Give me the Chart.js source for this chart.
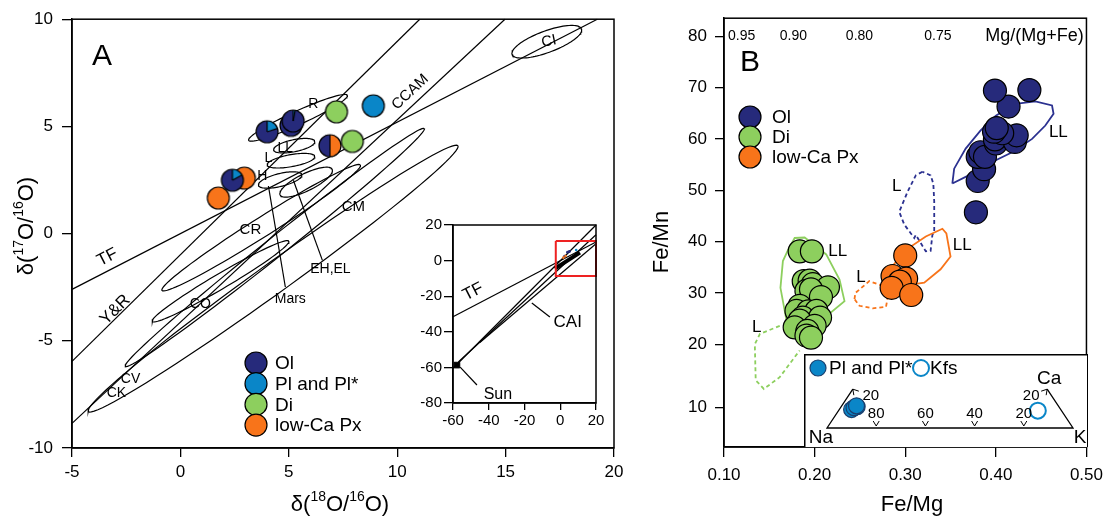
<!DOCTYPE html>
<html>
<head>
<meta charset="utf-8">
<script src="https://cdn.jsdelivr.net/npm/chart.js@4.4.0/dist/chart.umd.min.js"></script>
<style>
  body { margin: 0; background: #fff; width: 1111px; height: 519px; overflow: hidden; position: relative; }
  canvas { position: absolute; }
</style>
</head>
<body>
<canvas id="chartA" width="660" height="519" style="left:0;top:0;width:660px;height:519px"></canvas>
<canvas id="insetA" width="210" height="240" style="left:400px;top:200px;width:210px;height:240px"></canvas>
<canvas id="chartB" width="471" height="519" style="left:640px;top:0;width:471px;height:519px"></canvas>
<canvas id="ternB" width="284" height="93" style="left:804px;top:354px;width:284px;height:93px"></canvas>
<script>
const FONT = "'Liberation Sans', Arial, sans-serif";
const NAVY = '#262a7b', BLUE = '#0a86c8', GREEN = '#8dcf5e', ORANGE = '#f8741a';

// ---- panel A: oxygen isotopes ----
const olPieX = [2.4, 5.1, 5.2, 4.0];
const olPieY = [2.49, 5.05, 5.25, 4.75];
const olPlFrac = [0.17, 0, 0.03, 0.2];
const olPxX = [6.9], olPxY = [4.1];
const plX = [8.9], plY = [5.96];
const diX = [7.2, 7.93], diY = [5.68, 4.3];
const lowCaX = [2.95, 1.75], lowCaY = [2.59, 1.66];

// reference lines
const tfX = [-5, 19.23], tfY = [-2.6, 10];
const yrX = [-5, 11.04], yrY = [-5.96, 10];
const ccamX = [-5, 14.97], ccamY = [-8.85, 10];
const marsLeadX = [4.06, 4.84], marsLeadY = [2.22, -2.49];
const ehLeadX = [5.21, 6.55], ehLeadY = [2.49, -1.25];

// meteorite fields: major-axis tips and half width
const fieldX1 = [15.3, 3.15, 4.3, 4.0, 3.6, 4.6, -0.85, -1.3, -2.55, -4.25];
const fieldY1 = [8.35, 4.35, 3.9, 3.2, 2.25, 1.8, -2.65, -4.1, -6.2, -8.3];
const fieldX2 = [18.5, 7.7, 6.2, 6.2, 5.6, 7.0, 8.3, 5.0, 11.25, 12.8];
const fieldY2 = [9.55, 6.45, 4.3, 3.6, 2.75, 3.0, 3.2, -0.35, 4.9, 4.1];
const fieldW = [0.5, 0.32, 0.28, 0.28, 0.3, 0.4, 0.45, 0.35, 0.45, 0.7];

const labelText = ['TF', 'Y&R', 'CCAM', 'CI', 'R', 'LL', 'L', 'H', 'CR', 'CM', 'CO', 'CV', 'CK', 'EH,EL', 'Mars'];
const labelX = [-3.37, -3.0, 10.6, 17.0, 6.13, 4.84, 4.06, 3.78, 3.23, 7.98, 0.92, -2.3, -2.95, 6.92, 5.07];
const labelY = [-1.11, -3.56, 6.6, 8.96, 6.05, 4.0, 3.5, 2.68, 0.18, 1.25, -3.28, -6.8, -7.45, -1.66, -3.05];
const labelRot = [-27, -45, -43, -12, 0, 0, 0, 0, 0, 0, 0, 0, 0, 0, 0];
const labelSize = [17, 17, 15, 15, 14, 14, 14, 14, 15, 15, 14, 14, 14, 14, 14];

const legendA = ['Ol', 'Pl and Pl*', 'Di', 'low-Ca Px'];

// inset of panel A
const inTfX = [-60, 20], inTfY = [-31.5, 10.4];
const cai1X = [-60, 20], cai1Y = [-60.5, 20];
const cai2X = [-57, 20], cai2Y = [-57, 14.5];
const cai3X = [-45, 20], cai3Y = [-46, 9.5];
const blobX = [-3, 11], blobY = [-4.5, 4.5];
const sunX = [-57.8], sunY = [-58.7];
const boxX = [-2.5, 20, 20, -2.5, -2.5], boxY = [11, 11, -8.7, -8.7, 11];
const caiLeadX = [-15.9, -5.8], caiLeadY = [-23.8, -31.7];
const sunLeadX = [-56, -46.6], sunLeadY = [-59.8, -69.9];

// ---- panel B: Fe/Mg vs Fe/Mn ----
const olBX = [0.378, 0.380, 0.387, 0.380, 0.383, 0.388, 0.400, 0.399, 0.421, 0.423, 0.407, 0.398, 0.401, 0.414, 0.399, 0.437];
const olBY = [45.7, 51.8, 54.1, 56.5, 57.4, 56.5, 59.1, 59.9, 59.4, 60.7, 61.1, 61.4, 62.1, 66.3, 69.4, 69.5];
const diBX = [0.1835, 0.197, 0.188, 0.1945, 0.198, 0.2147, 0.191, 0.196, 0.207, 0.1835, 0.180, 0.193, 0.202, 0.187, 0.206, 0.1835, 0.178, 0.200, 0.192, 0.191, 0.196];
const diBY = [38.1, 38.1, 32.3, 32.4, 31.7, 31.1, 30.4, 30.7, 29.2, 27.5, 26.5, 26.4, 26.5, 25.2, 25.2, 24.6, 23.3, 23.6, 22.6, 21.7, 21.3];
const pxBX = [0.300, 0.286, 0.301, 0.294, 0.285, 0.3066];
const pxBY = [37.3, 33.3, 32.8, 32.2, 31.0, 29.6];

const llOlX = [0.352, 0.354, 0.3667, 0.383, 0.400, 0.4216, 0.4436, 0.462, 0.4637, 0.4546, 0.440, 0.418, 0.396, 0.370, 0.352];
const llOlY = [51.3, 54.2, 58.1, 61.6, 64.5, 66.8, 67.3, 66.5, 64.9, 62.6, 60.0, 57.4, 55.5, 52.9, 51.3];
const lOlX = [0.319, 0.3117, 0.3026, 0.2934, 0.299, 0.310, 0.3117, 0.3227, 0.328, 0.330, 0.332, 0.332, 0.331, 0.328, 0.319];
const lOlY = [53.6, 52.9, 49.7, 45.8, 43.3, 40.7, 41.3, 38.1, 38.2, 41.3, 41.9, 47.8, 51.3, 52.9, 53.6];
const llPxX = [0.2824, 0.2843, 0.3008, 0.3227, 0.341, 0.3454, 0.350, 0.339, 0.321, 0.2824];
const llPxY = [31.0, 34.9, 38.4, 41.0, 42.5, 41.6, 37.1, 34.6, 32.0, 31.0];
const lPxX = [0.244, 0.245, 0.2604, 0.2733, 0.2806, 0.2788, 0.264, 0.2495, 0.244];
const lPxY = [28.8, 30.0, 32.3, 31.5, 29.1, 27.3, 27.0, 27.5, 28.8];
const llDiX = [0.169, 0.1623, 0.165, 0.1707, 0.178, 0.189, 0.2128, 0.2275, 0.233, 0.209, 0.191, 0.169];
const llDiY = [24.6, 31.0, 36.2, 38.4, 40.7, 40.8, 37.5, 32.6, 28.4, 24.9, 23.6, 24.6];
const lDiX = [0.1615, 0.1396, 0.134, 0.135, 0.144, 0.1615, 0.1835];
const lDiY = [23.6, 22.0, 20.0, 13.0, 11.3, 13.6, 18.8];

const fieldBText = ['LL', 'L', 'LL', 'L', 'LL', 'L'];
const fieldBX = [0.469, 0.2905, 0.363, 0.2513, 0.2256, 0.136];
const fieldBY = [61.3, 50.7, 39.3, 33.1, 38.2, 23.4];

const yTickValsB = [7.7, 20, 30, 40, 50, 60, 70, 80];
const yTickLabelsB = ['10', '20', '30', '40', '50', '60', '70', '80'];
const topLabelsB = ['0.95', '0.90', '0.80', '0.75'];
const topLabelPosB = [0.1195, 0.1766, 0.2495, 0.336];
const legendB = ['Ol', 'Di', 'low-Ca Px'];

// feldspar ternary (fractions of Ca and K, Na = rest)
const ternFrameCa = [0.21, 0, 0, 0.21], ternFrameK = [0, 0, 1, 0.79];
const plCa = [0.10, 0.115, 0.11, 0.12], plK = [0.05, 0.065, 0.055, 0.06];
const kfsCa = [0.094], kfsK = [0.81];
const ternTickNa = [80, 60, 40, 20];

// ---------- helpers ----------
const pts = (xs, ys) => xs.map((x, i) => ({ x: x, y: ys[i] }));
const ternPts = (ca, k) => ca.map((c, i) => ({ x: k[i] + c / 2, y: c * 0.866 }));
// chart.js paints dataset 0 last; make later datasets paint on top instead
const stack = list => list.map((d, i) => Object.assign(d, { order: -i }));

function ellipsePts(i) {
  const cx = (fieldX1[i] + fieldX2[i]) / 2, cy = (fieldY1[i] + fieldY2[i]) / 2;
  const dx = fieldX2[i] - fieldX1[i], dy = fieldY2[i] - fieldY1[i];
  const len = Math.hypot(dx, dy), ux = dx / len, uy = dy / len, a = len / 2, b = fieldW[i];
  const out = [];
  for (let k = 0; k <= 90; k++) {
    const t = 2 * Math.PI * k / 90;
    out.push({ x: cx + a * Math.cos(t) * ux - b * Math.sin(t) * uy, y: cy + a * Math.cos(t) * uy + b * Math.sin(t) * ux });
  }
  return out;
}

function pie(r, slices) {
  const s = Math.ceil(2 * r + 4), c = document.createElement('canvas');
  c.width = s; c.height = s;
  const g = c.getContext('2d'), m = s / 2;
  let a = -Math.PI / 2;
  const used = slices.filter(sl => sl[0] > 0);
  used.forEach(([f, col]) => {
    const b = a + f * 2 * Math.PI;
    g.beginPath(); g.moveTo(m, m); g.arc(m, m, r, a, b); g.closePath();
    g.fillStyle = col; g.fill(); a = b;
  });
  g.strokeStyle = '#000'; g.lineWidth = 1.2;
  if (used.length > 1) {
    a = -Math.PI / 2;
    used.forEach(([f]) => {
      g.beginPath(); g.moveTo(m, m); g.lineTo(m + r * Math.cos(a), m + r * Math.sin(a)); g.stroke();
      a += f * 2 * Math.PI;
    });
  }
  g.beginPath(); g.arc(m, m, r, 0, 2 * Math.PI); g.stroke();
  return c;
}

function txt(ctx, s, x, y, size, opt) {
  opt = opt || {};
  ctx.save();
  ctx.translate(x, y);
  if (opt.rot) ctx.rotate(opt.rot * Math.PI / 180);
  ctx.font = size + 'px ' + FONT;
  ctx.fillStyle = opt.color || '#000';
  ctx.textAlign = opt.align || 'center';
  ctx.textBaseline = 'middle';
  ctx.fillText(s, 0, 0);
  ctx.restore();
}

// text with superscripts: parts = [[text, isSup], ...]
function rich(ctx, parts, x, y, size, rot) {
  ctx.save();
  ctx.translate(x, y);
  ctx.rotate(rot || 0);
  ctx.textBaseline = 'alphabetic';
  const supSize = Math.round(size * 0.62);
  let w = 0;
  parts.forEach(([t, sup]) => { ctx.font = (sup ? supSize : size) + 'px ' + FONT; w += ctx.measureText(t).width; });
  let cx = -w / 2;
  ctx.fillStyle = '#000';
  parts.forEach(([t, sup]) => {
    ctx.font = (sup ? supSize : size) + 'px ' + FONT;
    ctx.fillText(t, cx, sup ? size * 0.35 - size * 0.42 : size * 0.35);
    cx += ctx.measureText(t).width;
  });
  ctx.restore();
}

function circ(ctx, x, y, r, fill, stroke, lw) {
  ctx.beginPath(); ctx.arc(x, y, r, 0, 2 * Math.PI);
  if (fill) { ctx.fillStyle = fill; ctx.fill(); }
  ctx.lineWidth = lw || 1.2; ctx.strokeStyle = stroke || '#000'; ctx.stroke();
}

const frame = {
  id: 'frame',
  afterDraw(chart) {
    const { ctx, chartArea: a } = chart;
    ctx.save(); ctx.lineWidth = 1.5; ctx.strokeStyle = '#000';
    ctx.strokeRect(a.left, a.top, a.right - a.left, a.bottom - a.top);
    ctx.restore();
  }
};

const lineDs = (data, opt) => Object.assign({
  type: 'line', data: data, showLine: true, pointRadius: 0, borderColor: '#000',
  borderWidth: 1.2, fill: false, tension: 0, clip: false
}, opt || {});

const axisBase = (min, max) => ({
  type: 'linear', min: min, max: max,
  grid: { drawOnChartArea: false, drawTicks: true, tickLength: 9, color: '#000', lineWidth: 1.3 },
  border: { display: true, color: '#000', width: 1.5 },
  ticks: { color: '#000', font: { family: FONT, size: 17 } }
});

// ---------- chart A ----------
const pieA = [];
olPlFrac.forEach(f => pieA.push(pie(11, [[f, BLUE], [1 - f, NAVY]])));

const dsA = [];
fieldX1.forEach((_, i) => dsA.push(lineDs(ellipsePts(i))));
dsA.push(lineDs(pts(tfX, tfY)), lineDs(pts(yrX, yrY)), lineDs(pts(ccamX, ccamY)),
  lineDs(pts(marsLeadX, marsLeadY)), lineDs(pts(ehLeadX, ehLeadY)));
dsA.push({ data: pts(lowCaX, lowCaY), pointStyle: pie(11, [[1, ORANGE]]), clip: false });
dsA.push({ data: pts(olPieX, olPieY), pointStyle: pieA, clip: false });
dsA.push({ data: pts(olPxX, olPxY), pointStyle: pie(11, [[0.5, ORANGE], [0.5, NAVY]]), clip: false });
dsA.push({ data: pts(diX, diY), pointStyle: pie(11, [[1, GREEN]]), clip: false });
dsA.push({ data: pts(plX, plY), pointStyle: pie(11, [[1, BLUE]]), clip: false });

const xA = axisBase(-5, 20);
xA.ticks.stepSize = 5; xA.ticks.padding = 5;
xA.afterFit = s => { s.height = 71; };
const yA = axisBase(-10, 10);
yA.ticks.stepSize = 5; yA.ticks.padding = 9;
yA.grid.tickLength = 10;
yA.afterFit = s => { s.width = 72; };

new Chart(document.getElementById('chartA'), {
  type: 'scatter',
  data: { datasets: stack(dsA) },
  options: {
    responsive: false, animation: false, events: [],
    layout: { padding: { left: 0, right: 46, top: 15, bottom: 0 } },
    plugins: { legend: { display: false }, tooltip: { enabled: false } },
    scales: { x: xA, y: yA }
  },
  plugins: [frame, {
    id: 'textA',
    afterDraw(chart) {
      const { ctx, scales: { x, y } } = chart;
      labelText.forEach((t, i) => txt(ctx, t, x.getPixelForValue(labelX[i]), y.getPixelForValue(labelY[i]), labelSize[i], { rot: labelRot[i] }));
      txt(ctx, 'A', 102, 57, 30);
      const cols = [NAVY, BLUE, GREEN, ORANGE];
      legendA.forEach((t, i) => {
        const yy = 363 + i * 20.7;
        circ(ctx, 256, yy, 11, cols[i]);
        txt(ctx, t, 275, yy + 1, 19, { align: 'left' });
      });
      rich(ctx, [['δ(', 0], ['18', 1], ['O/', 0], ['16', 1], ['O)', 0]], 340, 503, 22, 0);
      rich(ctx, [['δ(', 0], ['17', 1], ['O/', 0], ['16', 1], ['O)', 0]], 25, 226, 22, -Math.PI / 2);
    }
  }]
});

// ---------- inset of A ----------
const xI = axisBase(-60, 20);
xI.ticks.stepSize = 20; xI.ticks.font = { family: FONT, size: 15 }; xI.ticks.padding = 2;
xI.grid.tickLength = 7;
xI.afterFit = s => { s.height = 37; };
const yI = axisBase(-80, 20);
yI.ticks.stepSize = 20; yI.ticks.font = { family: FONT, size: 15 }; yI.ticks.padding = 2;
yI.grid.tickLength = 9;
yI.afterFit = s => { s.width = 53; };

new Chart(document.getElementById('insetA'), {
  type: 'scatter',
  data: {
    datasets: stack([
      lineDs(pts(inTfX, inTfY)),
      lineDs(pts(cai1X, cai1Y)), lineDs(pts(cai2X, cai2Y)), lineDs(pts(cai3X, cai3Y)),
      lineDs(pts(blobX, blobY), { borderWidth: 4 }),
      lineDs(pts(caiLeadX, caiLeadY)), lineDs(pts(sunLeadX, sunLeadY)),
      { data: pts(sunX, sunY), pointStyle: 'rect', pointRadius: 4, backgroundColor: '#000', borderColor: '#000' },
      { data: pts(olPieX, olPieY), pointRadius: 1.3, backgroundColor: NAVY, borderWidth: 0 },
      { data: pts(plX, plY), pointRadius: 1.3, backgroundColor: BLUE, borderWidth: 0 },
      { data: pts(lowCaX, lowCaY), pointRadius: 1.3, backgroundColor: ORANGE, borderWidth: 0 },
      lineDs(pts(boxX, boxY), { borderColor: '#ee2222', borderWidth: 2 })
    ])
  },
  options: {
    responsive: false, animation: false, events: [],
    layout: { padding: { left: 0, right: 14, top: 25, bottom: 0 } },
    plugins: { legend: { display: false }, tooltip: { enabled: false } },
    scales: { x: xI, y: yI }
  },
  plugins: [{
    id: 'bgI',
    beforeDraw(chart) {
      const { ctx, chartArea: a } = chart;
      ctx.save(); ctx.fillStyle = '#fff'; ctx.fillRect(a.left, a.top, a.right - a.left, a.bottom - a.top); ctx.restore();
    }
  }, frame, {
    id: 'textI',
    afterDraw(chart) {
      const { ctx, scales: { x, y } } = chart;
      txt(ctx, 'TF', x.getPixelForValue(-48.8), y.getPixelForValue(-17.6), 17, { rot: -27 });
      txt(ctx, 'CAI', x.getPixelForValue(4.2), y.getPixelForValue(-34.5), 17);
      txt(ctx, 'Sun', x.getPixelForValue(-34.9), y.getPixelForValue(-75.5), 16);
    }
  }]
});

// ---------- chart B ----------
const OFFB = 20; // canvas B starts 20px left of the plot's label column
const dotB = (xs, ys, col) => ({
  data: pts(xs, ys), pointRadius: 11.5, backgroundColor: col, borderColor: '#000', borderWidth: 1.2, clip: false
});
const xB = axisBase(0.1, 0.5);
xB.ticks.stepSize = 0.1; xB.ticks.padding = 8;
xB.ticks.callback = v => v.toFixed(2);
xB.grid.tickLength = 10;
xB.afterFit = s => { s.height = 72; };
const yB = axisBase(0, 83.5);
yB.afterBuildTicks = s => { s.ticks = yTickValsB.map(v => ({ value: v })); };
yB.ticks.callback = (v, i) => yTickLabelsB[i];
yB.ticks.padding = 8;
yB.afterFit = s => { s.width = 64 + OFFB; };

new Chart(document.getElementById('chartB'), {
  type: 'scatter',
  data: {
    datasets: stack([
      lineDs(pts(llOlX, llOlY), { borderColor: '#2b3190', borderWidth: 1.8 }),
      lineDs(pts(lOlX, lOlY), { borderColor: '#2b3190', borderWidth: 1.8, borderDash: [4, 3] }),
      lineDs(pts(llPxX, llPxY), { borderColor: ORANGE, borderWidth: 1.8 }),
      lineDs(pts(lPxX, lPxY), { borderColor: ORANGE, borderWidth: 1.8, borderDash: [4, 3] }),
      lineDs(pts(llDiX, llDiY), { borderColor: GREEN, borderWidth: 1.8 }),
      lineDs(pts(lDiX, lDiY), { borderColor: GREEN, borderWidth: 1.8, borderDash: [4, 3] }),
      dotB(diBX, diBY, GREEN),
      dotB(pxBX, pxBY, ORANGE),
      dotB(olBX, olBY, NAVY)
    ])
  },
  options: {
    responsive: false, animation: false, events: [],
    layout: { padding: { left: 0, right: 23, top: 15, bottom: 0 } },
    plugins: { legend: { display: false }, tooltip: { enabled: false } },
    scales: { x: xB, y: yB }
  },
  plugins: [frame, {
    id: 'textB',
    afterDraw(chart) {
      const { ctx, scales: { x, y } } = chart;
      fieldBText.forEach((t, i) => txt(ctx, t, x.getPixelForValue(fieldBX[i]), y.getPixelForValue(fieldBY[i]), 17));
      topLabelsB.forEach((t, i) => txt(ctx, t, x.getPixelForValue(topLabelPosB[i]), y.getPixelForValue(80), 14));
      txt(ctx, 'Mg/(Mg+Fe)', x.getPixelForValue(0.497), y.getPixelForValue(80), 18, { align: 'right' });
      txt(ctx, 'B', 90 + OFFB, 63, 30);
      const cols = [NAVY, GREEN, ORANGE];
      legendB.forEach((t, i) => {
        const yy = 117 + i * 20;
        circ(ctx, 90 + OFFB, yy, 11, cols[i]);
        txt(ctx, t, 112 + OFFB, yy + 1, 19, { align: 'left' });
      });
      txt(ctx, 'Fe/Mg', 252 + OFFB, 505, 22);
      txt(ctx, 'Fe/Mn', 2 + OFFB, 242, 22, { rot: -90 });
    }
  }]
});

// ---------- feldspar ternary inset of B ----------
new Chart(document.getElementById('ternB'), {
  type: 'scatter',
  data: {
    datasets: stack([
      lineDs(ternPts(ternFrameCa, ternFrameK), { borderWidth: 1.3 }),
      { data: ternPts(plCa, plK), pointRadius: 8, backgroundColor: BLUE, borderColor: '#1a3f6e', borderWidth: 1.2, clip: false },
      { data: ternPts(kfsCa, kfsK), pointRadius: 8, backgroundColor: '#fff', borderColor: BLUE, borderWidth: 2, clip: false }
    ])
  },
  options: {
    responsive: false, animation: false, events: [],
    layout: { padding: { left: 23, right: 15, top: 0, bottom: 19 } },
    plugins: { legend: { display: false }, tooltip: { enabled: false } },
    scales: { x: { display: false, min: 0, max: 1 }, y: { display: false, min: 0, max: 0.3 } }
  },
  plugins: [{
    id: 'bgT',
    beforeDraw(chart) {
      const ctx = chart.ctx;
      ctx.save(); ctx.fillStyle = '#fff'; ctx.fillRect(0, 0, chart.width, chart.height);
      ctx.lineWidth = 1.5; ctx.strokeStyle = '#000'; ctx.strokeRect(0.75, 0.75, chart.width - 1, chart.height + 2);
      ctx.restore();
    },
    afterDraw(chart) {
      const { ctx, scales: { x, y } } = chart;
      const y0 = y.getPixelForValue(0);
      ctx.save(); ctx.strokeStyle = '#000'; ctx.lineWidth = 1;
      ternTickNa.forEach(n => {
        const px = x.getPixelForValue(1 - n / 100);
        ctx.beginPath(); ctx.moveTo(px - 3, y0 - 7); ctx.lineTo(px, y0 - 2); ctx.lineTo(px + 3, y0 - 7); ctx.stroke();
        txt(ctx, String(n), px, y0 - 14, 15);
      });
      // arrow heads at the cut ends
      const lx = x.getPixelForValue(0.105), ly = y.getPixelForValue(0.182);
      const rx = x.getPixelForValue(0.895);
      ctx.beginPath(); ctx.moveTo(lx + 1, ly + 6); ctx.lineTo(lx, ly); ctx.lineTo(lx + 6, ly + 2); ctx.stroke();
      ctx.beginPath(); ctx.moveTo(rx - 1, ly + 6); ctx.lineTo(rx, ly); ctx.lineTo(rx - 6, ly + 2); ctx.stroke();
      ctx.restore();
      txt(ctx, '20', lx + 18, ly + 7, 15);
      txt(ctx, '20', rx - 16, ly + 7, 15);
      txt(ctx, 'Ca', rx + 2, ly - 10, 19);
      txt(ctx, 'Na', 17, 84, 19);
      txt(ctx, 'K', 276, 84, 19);
      circ(ctx, 14, 14, 8, BLUE, '#1a3f6e');
      txt(ctx, 'Pl and Pl*', 25, 15, 19, { align: 'left' });
      circ(ctx, 117, 14, 8, '#fff', BLUE, 2);
      txt(ctx, 'Kfs', 126, 15, 19, { align: 'left' });
    }
  }]
});
</script>
</body>
</html>
